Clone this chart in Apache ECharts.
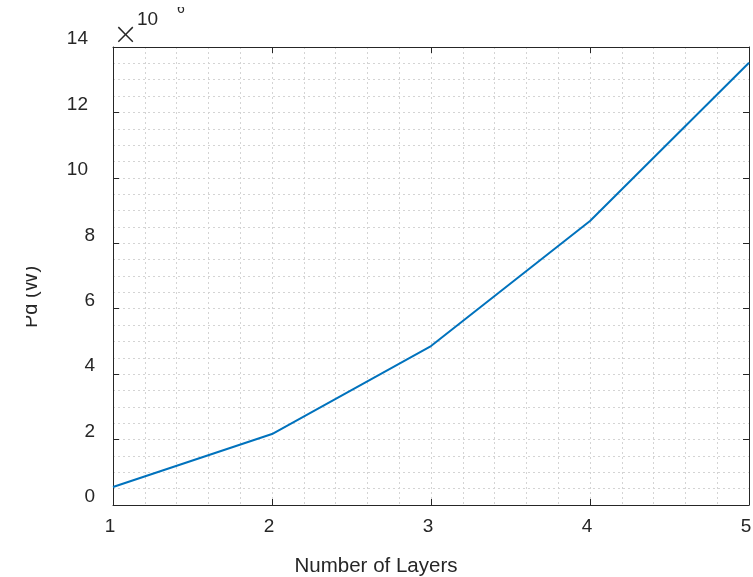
<!DOCTYPE html>
<html>
<head>
<meta charset="utf-8">
<script src="https://cdn.jsdelivr.net/npm/echarts@6/dist/echarts.min.js"></script>
<style>
  html, body { margin: 0; padding: 0; background: #fff; }
  #chart { width: 753px; height: 577px; }
</style>
</head>
<body>
<div id="chart"></div>
<script>
const layers = [1, 2, 3, 4, 5];
const powerMW = [0.55, 2.17, 4.86, 8.68, 13.52]; // Pd in units of 1e6 W
const xTicks = [1, 2, 3, 4, 5];
const yTicks = [0, 2, 4, 6, 8, 10, 12, 14];

const axisColor = '#262626';
const gridColor = '#d4d4d4';
const fontFamily = '"Liberation Sans", Arial, sans-serif';

const chart = echarts.init(document.getElementById('chart'), null, { renderer: 'canvas' });

const dotted = { color: gridColor, type: [2, 3], width: 1 };

const baseX = {
  type: 'value',
  min: xTicks[0],
  max: xTicks[xTicks.length - 1],
  interval: 1,
  axisLine: { show: true, onZero: false, lineStyle: { color: axisColor, width: 1 } },
  axisTick: { show: true, inside: true, length: 6, lineStyle: { color: axisColor } },
  splitLine: { show: false },
  minorTick: { show: false, splitNumber: 5 },
  minorSplitLine: { show: false }
};

const baseY = {
  type: 'value',
  min: yTicks[0],
  max: yTicks[yTicks.length - 1],
  interval: 2,
  axisLine: { show: true, onZero: false, lineStyle: { color: axisColor, width: 1 } },
  axisTick: { show: true, inside: true, length: 6, lineStyle: { color: axisColor } },
  splitLine: { show: false },
  minorTick: { show: false, splitNumber: 4 },
  minorSplitLine: { show: false }
};

const option = {
  backgroundColor: '#fff',
  animation: false,
  textStyle: { fontFamily },
  grid: { left: 113, right: 4, top: 47, bottom: 72, outerBoundsMode: 'none', containLabel: false },
  xAxis: [
    Object.assign({}, baseX, {
      position: 'bottom',
      axisLabel: { color: axisColor, fontSize: 19, margin: 12, fontFamily, padding: [0, 6, 0, 0] },
      splitLine: { show: true, lineStyle: dotted },
      minorSplitLine: { show: true, lineStyle: dotted }
    }),
    Object.assign({}, baseX, {
      position: 'top',
      axisLabel: { show: false }
    })
  ],
  yAxis: [
    Object.assign({}, baseY, {
      position: 'left',
      axisLabel: {
        color: axisColor, fontSize: 19, margin: 18, fontFamily,
        verticalAlign: 'bottom', lineHeight: 16,
        formatter: (v) => (String(v).length > 1 ? '{w|' + v + '}' : String(v)),
        rich: {
          w: { fontSize: 19, fontFamily, color: axisColor, lineHeight: 16, padding: [0, 7, 0, 0] }
        }
      },
      splitLine: { show: true, lineStyle: dotted },
      minorSplitLine: { show: true, lineStyle: dotted }
    }),
    Object.assign({}, baseY, {
      position: 'right',
      axisLabel: { show: false }
    })
  ],
  graphic: [
    {
      type: 'text',
      x: 376,
      y: 566,
      style: {
        text: 'Number of Layers',
        fill: axisColor,
        font: '20.5px "Liberation Sans", Arial, sans-serif',
        textAlign: 'center',
        textVerticalAlign: 'middle'
      },
      z: 10
    },
    {
      type: 'text',
      x: 31,
      y: 297,
      rotation: Math.PI / 2,
      style: {
        text: 'Pd (W)',
        fill: axisColor,
        font: '20px "Liberation Sans", Arial, sans-serif',
        textAlign: 'center',
        textVerticalAlign: 'middle'
      },
      z: 10
    },
    {
      type: 'rect',
      shape: { x: 0, y: 0, width: 26, height: 577 },
      style: { fill: '#fff' },
      z: 20
    },
    {
      type: 'text',
      style: {
        text: '×',
        fill: axisColor,
        font: '200 30px "DejaVu Sans", sans-serif',
        x: 113,
        y: 21
      },
      z: 10
    },
    {
      type: 'text',
      style: {
        text: '10',
        fill: axisColor,
        font: '19px "Liberation Sans", Arial, sans-serif',
        x: 137,
        y: 10
      },
      z: 10
    },
    {
      type: 'text',
      style: {
        text: '6',
        fill: axisColor,
        font: '14px "Liberation Sans", Arial, sans-serif',
        x: 177,
        y: 2
      },
      z: 10
    },
    {
      type: 'rect',
      shape: { x: 160, y: 0, width: 40, height: 7 },
      style: { fill: '#fff' },
      z: 20
    }
  ],
  series: [
    {
      type: 'line',
      xAxisIndex: 0,
      yAxisIndex: 0,
      data: layers.map((x, i) => [x, powerMW[i]]),
      symbol: 'none',
      lineStyle: { color: '#0072BD', width: 2 },
      z: 5
    }
  ]
};

chart.setOption(option);
</script>
</body>
</html>
